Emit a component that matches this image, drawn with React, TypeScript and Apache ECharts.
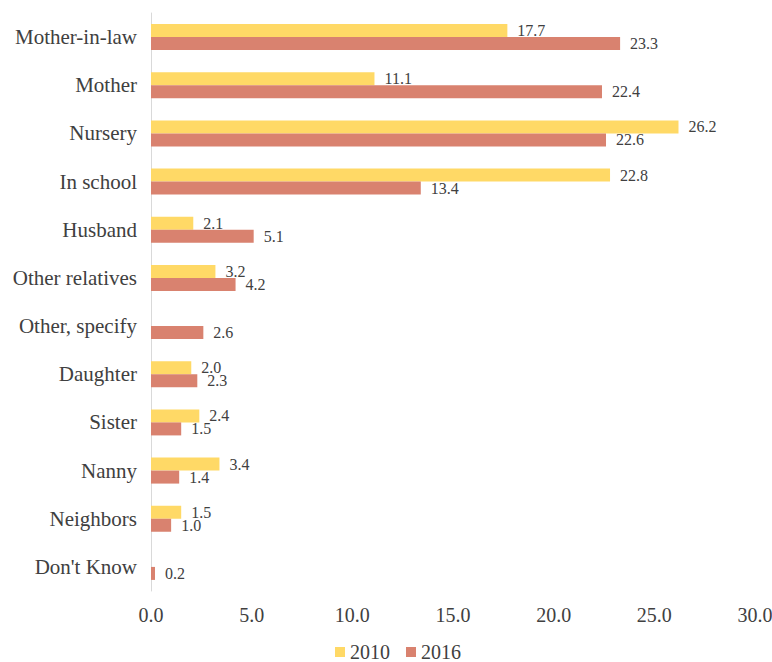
import React, { useEffect, useRef } from "react";
import * as echarts from "echarts";

const categories = [
  "Mother-in-law",
  "Mother",
  "Nursery",
  "In school",
  "Husband",
  "Other relatives",
  "Other, specify",
  "Daughter",
  "Sister",
  "Nanny",
  "Neighbors",
  "Don't Know",
];
const values2010: (number | null)[] = [17.7, 11.1, 26.2, 22.8, 2.1, 3.2, null, 2.0, 2.4, 3.4, 1.5, null];
const values2016: (number | null)[] = [23.3, 22.4, 22.6, 13.4, 5.1, 4.2, 2.6, 2.3, 1.5, 1.4, 1.0, 0.2];
const xTicks = [0, 5, 10, 15, 20, 25, 30];

const FONT = "'Liberation Serif', 'Times New Roman', serif";

export default function App() {
  const ref = useRef<HTMLDivElement>(null);
  useEffect(() => {
    if (!ref.current) return;
    const chart = echarts.init(ref.current, null, { renderer: "svg" });
    const label = {
      show: true,
      position: "right" as const,
      distance: 10,
      fontFamily: FONT,
      fontSize: 16,
      color: "#404040",
      formatter: (p: any) => (p.value == null ? "" : Number(p.value).toFixed(1)),
    };
    chart.setOption({
      animation: false,
      grid: {
        left: 151,
        right: 17,
        top: 13,
        bottom: 71,
        containLabel: false,
        outerBoundsMode: "none",
      },
      legend: {
        bottom: 0,
        left: 335,
        padding: 0,
        itemWidth: 10,
        itemHeight: 10,
        itemGap: 16,
        icon: "rect",
        textStyle: { fontFamily: FONT, fontSize: 20, color: "#404040" },
        data: ["2010", "2016"],
      },
      xAxis: {
        type: "value",
        min: xTicks[0],
        max: xTicks[xTicks.length - 1],
        interval: 5,
        axisLine: { show: false },
        axisTick: { show: false },
        splitLine: { show: false },
        axisLabel: {
          fontFamily: FONT,
          fontSize: 20,
          color: "#404040",
          margin: 14,
          formatter: (v: number) => v.toFixed(1),
        },
      },
      yAxis: {
        type: "category",
        data: categories,
        inverse: true,
        axisLine: { show: true, lineStyle: { color: "#d9d9d9", width: 1 } },
        axisTick: { show: false },
        axisLabel: { fontFamily: FONT, fontSize: 21, color: "#404040", margin: 14 },
      },
      series: [
        {
          name: "2010",
          type: "bar",
          data: values2010,
          barWidth: 13,
          barGap: "0%",
          itemStyle: { color: "#FFD966" },
          label,
        },
        {
          name: "2016",
          type: "bar",
          data: values2016,
          barWidth: 13,
          barGap: "0%",
          itemStyle: { color: "#D9826F" },
          label,
        },
      ],
    });
    return () => chart.dispose();
  }, []);
  return <div ref={ref} style={{ width: 772, height: 662, position: "absolute", left: 0, top: 0 }} />;
}
